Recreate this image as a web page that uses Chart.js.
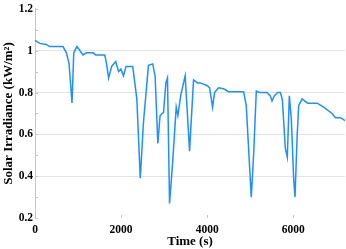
<!DOCTYPE html>
<html lang="en">
<head>
    <meta charset="UTF-8">
    <title>Solar irradiance</title>
    <script src="https://cdn.jsdelivr.net/npm/chart.js@4.4.0/dist/chart.umd.min.js"></script>
    <style>
        html, body { margin: 0; padding: 0; background: #fff; }
        #wrap { width: 346px; height: 249px; }
    </style>
</head>
<body>
    <div id="wrap"><canvas id="irr"></canvas></div>
    <script>
        // time stamps (s) and irradiance (kW/m2)
        var times = [0, 110, 260, 340, 650, 730, 790, 860, 900, 975, 1115, 1195, 1350, 1410, 1620, 1660,
            1710, 1780, 1875, 1940, 1995, 2055, 2115, 2270, 2365, 2445, 2520, 2635, 2735, 2790, 2853,
            2905, 2985, 3040, 3077, 3125, 3193, 3280, 3318, 3388, 3488, 3590, 3682, 3775, 3837, 3992,
            4054, 4124, 4170, 4263, 4380, 4496, 4845, 4907, 5023, 5077, 5140, 5217, 5388, 5465, 5504,
            5558, 5635, 5698, 5744, 5814, 5860, 5907, 5953, 6007, 6039, 6086, 6124, 6202, 6333, 6551,
            6705, 6900, 6977, 7093, 7170, 7200];
        var irradiance = [1.05, 1.035, 1.03, 1.02, 1.02, 0.99, 0.94, 0.75, 0.99, 1.02, 0.98, 0.99, 0.99, 0.98, 0.98, 0.94,
            0.87, 0.925, 0.948, 0.90, 0.912, 0.88, 0.925, 0.925, 0.77, 0.39, 0.66, 0.93, 0.937, 0.878, 0.557,
            0.69, 0.705, 0.846, 0.87, 0.27, 0.455, 0.73, 0.69, 0.79, 0.88, 0.52, 0.86, 0.846, 0.846, 0.834,
            0.823, 0.73, 0.80, 0.823, 0.818, 0.804, 0.804, 0.737, 0.30, 0.50, 0.807, 0.80, 0.80, 0.784, 0.76,
            0.784, 0.80, 0.80, 0.768, 0.533, 0.49, 0.784, 0.674, 0.39, 0.30, 0.58, 0.737, 0.77, 0.749, 0.749,
            0.73, 0.70, 0.68, 0.68, 0.67, 0.665];
        var xTicks = [0, 2000, 4000, 6000];
        var yTicks = [0.2, 0.4, 0.6, 0.8, 1, 1.2];

        var points = [];
        for (var i = 0; i < times.length; i++) {
            points.push({x: times[i], y: irradiance[i]});
        }

        var tickFont = {family: '"Liberation Serif", "Times New Roman", serif', size: 11.5, weight: 'bold'};
        var titleFont = {family: '"Liberation Serif", "Times New Roman", serif', size: 13, weight: 'bold'};

        function isMajor(v) {
            for (var k = 0; k < yTicks.length; k++) {
                if (Math.abs(yTicks[k] - v) < 1e-6) return true;
            }
            return false;
        }

        // small inward tick marks like the original plot
        var innerTicks = {
            id: 'innerTicks',
            afterDraw: function (chart) {
                var ctx = chart.ctx;
                var ys = chart.scales.y, xs = chart.scales.x;
                ctx.save();
                ctx.strokeStyle = '#c8c8c8';
                ctx.lineWidth = 1;
                ys.ticks.forEach(function (t) {
                    var py = Math.round(ys.getPixelForValue(t.value)) + 0.5;
                    ctx.beginPath();
                    ctx.moveTo(xs.left, py);
                    ctx.lineTo(xs.left + 3, py);
                    ctx.stroke();
                });
                xTicks.forEach(function (v) {
                    var px = Math.round(xs.getPixelForValue(v)) + 0.5;
                    ctx.beginPath();
                    ctx.moveTo(px, ys.bottom);
                    ctx.lineTo(px, ys.bottom - 3);
                    ctx.stroke();
                });
                ctx.restore();
            }
        };

        var ctx = document.getElementById('irr');
        new Chart(ctx, {
            type: 'line',
            data: {
                datasets: [{
                    data: points,
                    borderColor: '#1e8fff',
                    borderWidth: 1.5,
                    pointRadius: 0,
                    tension: 0,
                    fill: false
                }]
            },
            options: {
                responsive: true,
                maintainAspectRatio: false,
                animation: false,
                layout: {padding: {top: 5, right: 1, left: 0, bottom: 0}},
                plugins: {legend: {display: false}, tooltip: {enabled: false}},
                scales: {
                    x: {
                        type: 'linear',
                        min: 0,
                        max: 7200,
                        afterFit: function (s) { s.height = 31; },
                        afterBuildTicks: function (s) {
                            s.ticks = xTicks.map(function (v) { return {value: v}; });
                        },
                        ticks: {
                            font: tickFont, color: '#000', padding: 5, maxRotation: 0, includeBounds: false,
                            callback: function (v) { return String(v); }
                        },
                        grid: {display: false, drawTicks: false},
                        border: {display: false},
                        title: {display: true, text: 'Time (s)', font: titleFont, color: '#000', padding: {top: 0, bottom: 0}}
                    },
                    y: {
                        min: 0.2,
                        max: 1.2,
                        afterFit: function (s) { s.width = 35; },
                        ticks: {
                            stepSize: 0.1,
                            font: tickFont,
                            color: '#000',
                            padding: 2,
                            callback: function (v) { return isMajor(v) ? String(Math.round(v * 10) / 10) : ''; }
                        },
                        grid: {
                            drawTicks: false,
                            color: function (c) {
                                var v = c.tick.value;
                                if (Math.abs(v - 0.2) < 1e-6 || Math.abs(v - 1.2) < 1e-6) return 'rgba(0,0,0,0)';
                                return isMajor(v) ? '#e3e3e3' : 'rgba(0,0,0,0)';
                            }
                        },
                        border: {display: true, color: '#c8c8c8'},
                        title: {display: true, text: 'Solar Irradiance (kW/m²)', font: titleFont, color: '#000', padding: {top: 1, bottom: 0}}
                    }
                }
            },
            plugins: [innerTicks]
        });
    </script>
</body>
</html>
